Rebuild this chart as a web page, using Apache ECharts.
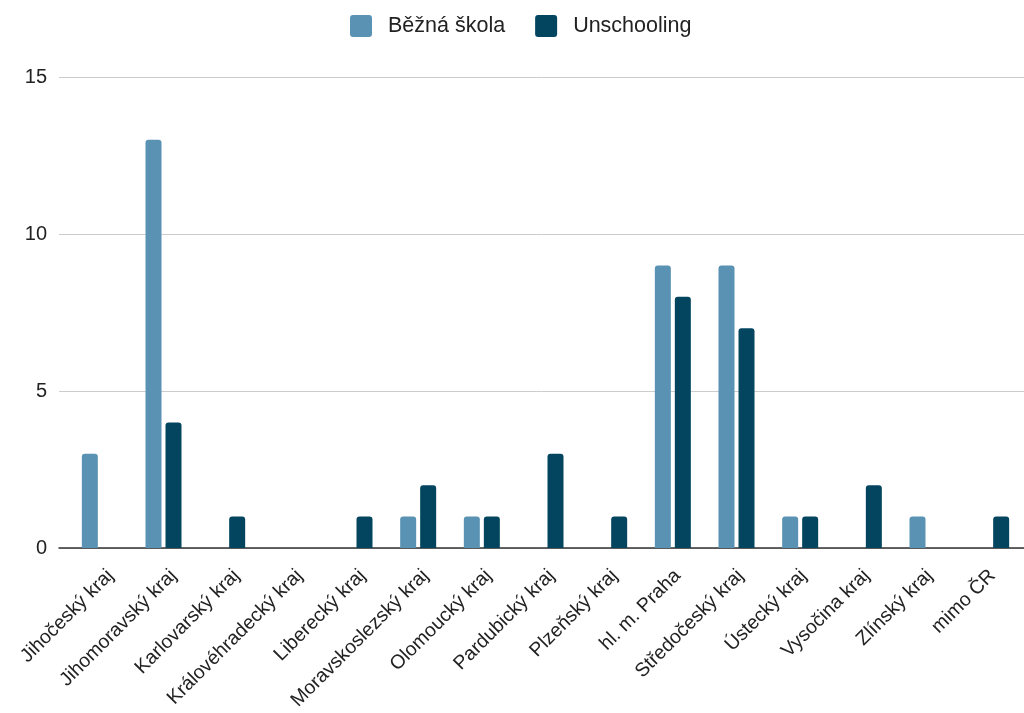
<!DOCTYPE html>
<html>
<head>
<meta charset="utf-8">
<script src="https://cdn.jsdelivr.net/npm/echarts@6/dist/echarts.min.js"></script>
<style>
  html, body { margin: 0; padding: 0; background: #fff; }
  #chart { width: 1024px; height: 713px; }
</style>
</head>
<body>
<div id="chart"></div>
<script>
var regions = ['Jihočeský kraj', 'Jihomoravský kraj', 'Karlovarský kraj', 'Královéhradecký kraj',
  'Liberecký kraj', 'Moravskoslezský kraj', 'Olomoucký kraj', 'Pardubický kraj', 'Plzeňský kraj',
  'hl. m. Praha', 'Středočeský kraj', 'Ústecký kraj', 'Vysočina kraj', 'Zlínský kraj', 'mimo ČR'];
var bezna = [3, 13, 0, 0, 0, 1, 1, 0, 0, 9, 9, 1, 0, 1, 0];
var unschooling = [0, 4, 1, 0, 1, 2, 1, 3, 1, 8, 7, 1, 2, 0, 1];

var chart = echarts.init(document.getElementById('chart'));
var font = '"Liberation Sans", Arial, sans-serif';
var labelShift = 11;

function barSeries(name, data, color) {
    return {
        name: name,
        type: 'bar',
        data: data,
        barWidth: 16,
        barGap: '25%',
        itemStyle: { color: color, borderRadius: [3, 3, 0, 0] }
    };
}

chart.setOption({
    animation: false,
    color: ['#5992b2', '#03455f'],
    legend: {
        top: 10,
        left: 345,
        itemWidth: 22,
        itemHeight: 22,
        itemGap: 30,
        icon: 'path://M3,0 H19 Q22,0 22,3 V19 Q22,22 19,22 H3 Q0,22 0,19 V3 Q0,0 3,0 Z',
        textStyle: { fontFamily: font, fontSize: 21.5, color: '#222', padding: [0, 0, 0, 11] },
        data: ['Běžná škola', 'Unschooling']
    },
    grid: [
        // bars
        { left: 68, right: 1, top: 77, bottom: 165 },
        // axis line, split lines, y labels
        { left: 59, right: 0, top: 77, bottom: 165 },
        // category labels
        { left: 68 + labelShift, right: 1 - labelShift, top: 77, bottom: 165 }
    ],
    xAxis: [
        { type: 'category', gridIndex: 0, data: regions, show: false },
        { type: 'category', gridIndex: 1, data: regions,
          axisTick: { show: false }, axisLabel: { show: false },
          axisLine: { lineStyle: { color: '#333', width: 1.5 } } },
        { type: 'category', gridIndex: 2, data: regions,
          axisTick: { show: false }, axisLine: { show: false },
          axisLabel: { rotate: 45, interval: 0, margin: 25, fontFamily: font, fontSize: 19.5, color: '#222' } }
    ],
    yAxis: [
        { type: 'value', gridIndex: 0, min: 0, max: 15, interval: 5, show: false, splitLine: { show: false } },
        { type: 'value', gridIndex: 1, min: 0, max: 15, interval: 5,
          axisLine: { show: false }, axisTick: { show: false },
          splitLine: { lineStyle: { color: '#cccccc', width: 1 } },
          axisLabel: { margin: 12, fontFamily: font, fontSize: 20, color: '#222' } },
        { type: 'value', gridIndex: 2, min: 0, max: 15, show: false, splitLine: { show: false } }
    ],
    series: [
        barSeries('Běžná škola', bezna, '#5992b2'),
        barSeries('Unschooling', unschooling, '#03455f')
    ]
});
</script>
</body>
</html>
